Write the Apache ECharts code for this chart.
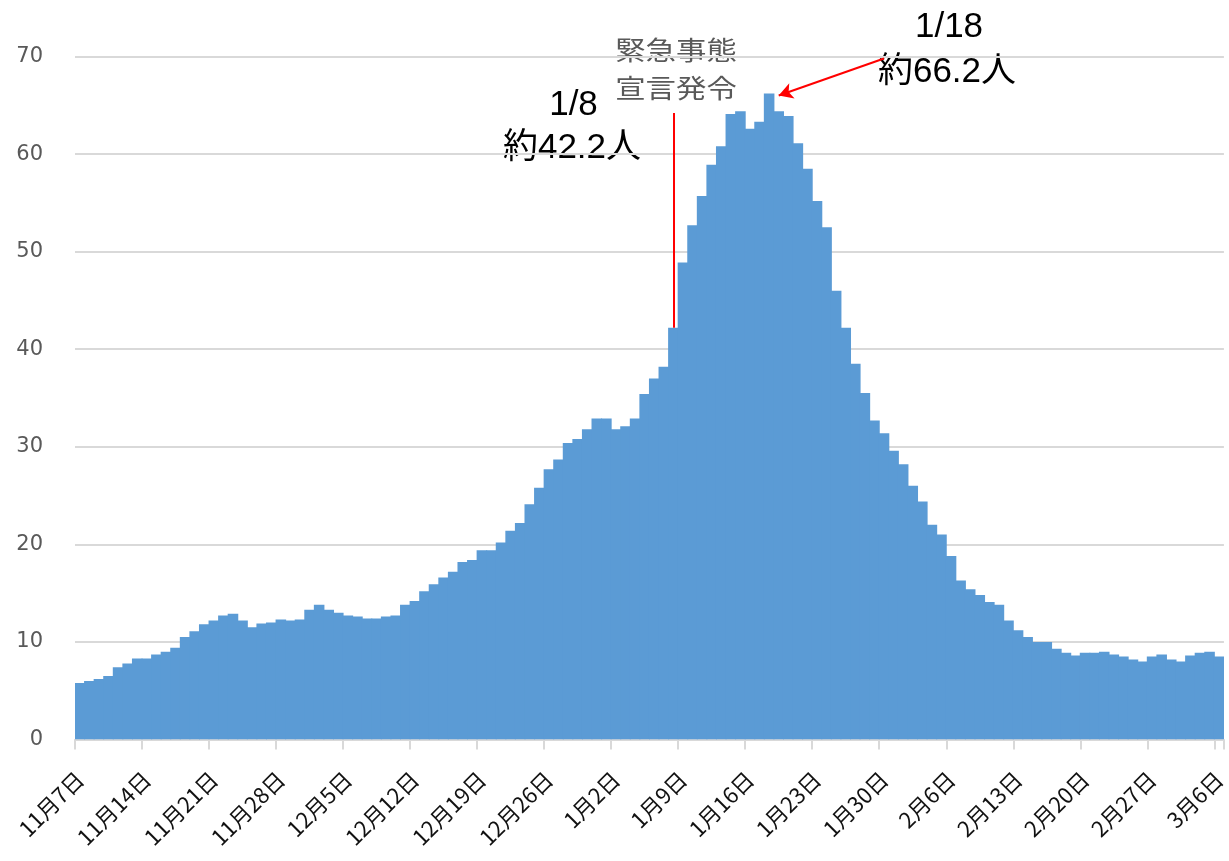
<!DOCTYPE html>
<html>
<head>
<meta charset="utf-8">
<script src="https://cdn.jsdelivr.net/npm/echarts@6/dist/echarts.min.js"></script>
<style>
  html, body { margin: 0; padding: 0; background: #ffffff; }
  #chart { width: 1229px; height: 861px; }
</style>
</head>
<body>
<div id="chart"></div>
<script>
// ---- data ----
const startDate = [2020, 11, 7];   // year, month, day of the first bar
const values = [
  5.8, 6.0, 6.2, 6.5, 7.4, 7.8, 8.3, 8.3, 8.7, 9.0,
  9.4, 10.5, 11.1, 11.8, 12.2, 12.7, 12.9, 12.2, 11.5, 11.9,
  12.0, 12.3, 12.2, 12.3, 13.3, 13.8, 13.3, 13.0, 12.7, 12.6,
  12.4, 12.4, 12.6, 12.7, 13.8, 14.2, 15.2, 15.9, 16.6, 17.2,
  18.2, 18.4, 19.4, 19.4, 20.2, 21.4, 22.2, 24.1, 25.8, 27.7,
  28.7, 30.4, 30.8, 31.8, 32.9, 32.9, 31.8, 32.1, 32.9, 35.4,
  37.0, 38.2, 42.2, 48.9, 52.7, 55.7, 58.9, 60.8, 64.1, 64.4,
  62.6, 63.3, 66.2, 64.4, 63.9, 61.1, 58.5, 55.2, 52.5, 46.0,
  42.2, 38.5, 35.5, 32.7, 31.4, 29.6, 28.2, 26.0, 24.4, 22.0,
  21.0, 18.8, 16.3, 15.4, 14.8, 14.1, 13.8, 12.2, 11.2, 10.5,
  10.0, 10.0, 9.3, 8.9, 8.6, 8.9, 8.9, 9.0, 8.7, 8.5,
  8.2, 8.0, 8.5, 8.7, 8.2, 8.0, 8.6, 8.9, 9.0, 8.5
];
const yAxisRange = { min: 0, max: 70, interval: 10 };
const labelEvery = 7;                 // one date label per week
const declarationIndex = 62;          // 1/8
const declarationValue = 42.2;
const peakIndex = 72;                 // 1/18
const peakValue = 66.2;
const declarationText = ['緊急事態', '宣言発令'];
const declarationNote = ['1/8', '約42.2人'];
const peakNote = ['1/18', '約66.2人'];

const categories = [];
for (let i = 0; i < values.length; i++) {
  const d = new Date(startDate[0], startDate[1] - 1, startDate[2] + i);
  categories.push((d.getMonth() + 1) + '月' + d.getDate() + '日');
}

// ---- chart ----
const chart = echarts.init(document.getElementById('chart'), null, { renderer: 'canvas' });

const jpFont = '"Noto Sans CJK JP", "Noto Sans", sans-serif';
const noteFont = '"Liberation Sans", "Noto Sans CJK JP", sans-serif';
const barColor = '#5b9bd5';

// bars drawn edge to edge (band-wide rectangles, slightly overlapped so no seams)
function renderBar(params, api) {
  const idx = api.value(0);
  const top = api.coord([idx, api.value(1)]);
  const base = api.coord([idx, 0]);
  const w = api.size([1, 0])[0];
  return {
    type: 'rect',
    shape: { x: top[0] - w / 2 - 0.5, y: top[1], width: w + 1, height: base[1] - top[1] },
    style: { fill: barColor }
  };
}

const grayText = (txt, x, y) => ({
  type: 'text', x: x, y: y, scaleX: 1.17,
  style: { text: txt, font: '26px ' + jpFont, fill: '#595959', textAlign: 'center', textVerticalAlign: 'middle' }
});
const blackText = (txt, x, y) => ({
  type: 'text', x: x, y: y,
  style: { text: txt, font: '35px ' + noteFont, fill: '#000000', textAlign: 'center', textVerticalAlign: 'middle' }
});

chart.setOption({
  animation: false,
  backgroundColor: '#ffffff',
  grid: { left: 75, right: 0, top: 56.5, bottom: 121.5, containLabel: false },
  xAxis: {
    type: 'category',
    data: categories,
    boundaryGap: true,
    axisLine: { show: true, lineStyle: { color: '#d9d9d9', width: 2 } },
    axisTick: { show: true, interval: labelEvery - 1, alignWithLabel: false, length: 10,
                lineStyle: { color: '#d9d9d9', width: 2 } },
    axisLabel: {
      interval: labelEvery - 1, rotate: 45, margin: 36,
      fontSize: 22, color: '#111111', fontFamily: jpFont
    },
    splitLine: { show: false }
  },
  yAxis: {
    type: 'value',
    min: yAxisRange.min, max: yAxisRange.max, interval: yAxisRange.interval,
    axisLine: { show: false },
    axisTick: { show: false },
    axisLabel: { margin: 32, fontSize: 21, color: '#595959', fontFamily: '"DejaVu Sans", sans-serif' },
    splitLine: { show: true, lineStyle: { color: '#d9d9d9', width: 2 } }
  },
  series: [{
    type: 'custom',
    renderItem: renderBar,
    encode: { x: 0, y: 1 },
    data: values.map((v, i) => [i, v]),
    clip: true,
    markLine: {
      silent: true,
      animation: false,
      label: { show: false },
      data: [
        [
          { coord: [declarationIndex, declarationValue], symbol: 'none' },
          { coord: [declarationIndex, 64.2], symbol: 'none' }
        ],
        [
          { coord: [peakIndex + 12, 69.8], symbol: 'none' },
          { coord: [peakIndex + 1, 66.0], symbol: 'arrow', symbolSize: [12, 14] }
        ]
      ],
      lineStyle: { color: '#ff0000', width: 2, type: 'solid' }
    }
  }],
  graphic: [
    grayText(declarationText[0], 676, 50),
    grayText(declarationText[1], 676, 88.5),
    blackText(declarationNote[0], 573.5, 105),
    blackText(declarationNote[1], 572, 148),
    blackText(peakNote[0], 949, 27.5),
    blackText(peakNote[1], 947, 72)
  ]
});
</script>
</body>
</html>
